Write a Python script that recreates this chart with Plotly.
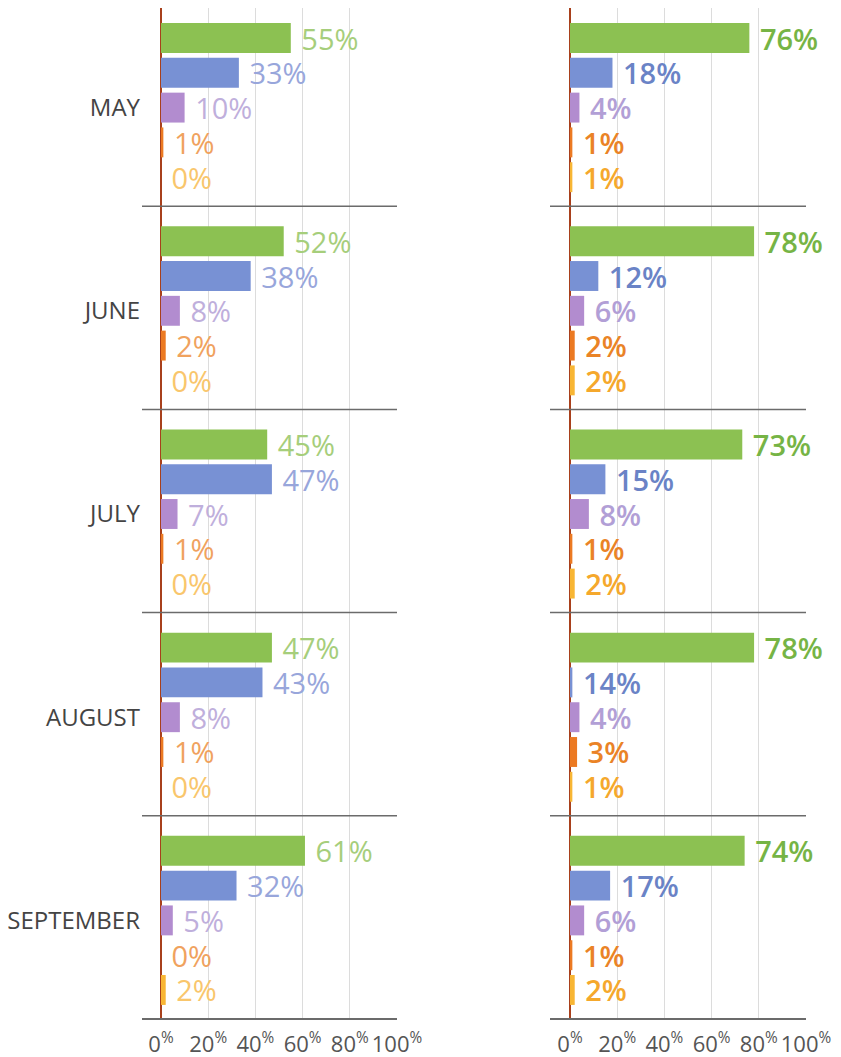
import plotly.graph_objects as go

months = ["MAY", "JUNE", "JULY", "AUGUST", "SEPTEMBER"]
series_names = ["S1", "S2", "S3", "S4", "S5"]

# Left panel: printed percentages (bar lengths match)
left_s1 = [55, 52, 45, 47, 61]
left_s2 = [33, 38, 47, 43, 32]
left_s3 = [10, 8, 7, 8, 5]
left_s4 = [1, 2, 1, 1, 0]
left_s5 = [0, 0, 0, 0, 2]

# Right panel: printed percentages
right_s1 = [76, 78, 73, 78, 74]
right_s2 = [18, 12, 15, 14, 17]
right_s3 = [4, 6, 8, 4, 6]
right_s4 = [1, 2, 1, 3, 1]
right_s5 = [1, 2, 2, 1, 2]
# Right panel blue bar lengths as drawn (August bar drawn much shorter than its label)
right_s2_drawn = [18, 12, 15, 1, 17]

tick_vals = [0, 20, 40, 60, 80, 100]
tick_text = ["0<sup>%</sup>", "20<sup>%</sup>", "40<sup>%</sup>", "60<sup>%</sup>", "80<sup>%</sup>", "100<sup>%</sup>"]

bar_colors = ["#8cc152", "#7891d4", "#b28ccf", "#ec7a22", "#f8b634"]
left_text_colors = ["#a6ce7b", "#98a6db", "#bfafdc", "#f0a25e", "#f9c66c"]
right_text_colors = ["#76b445", "#6a83c6", "#b29fd6", "#ea8326", "#f5a82c"]

FONT = "Open Sans"

left_lengths = [left_s1, left_s2, left_s3, left_s4, left_s5]
left_labels = [left_s1, left_s2, left_s3, left_s4, left_s5]
right_lengths = [right_s1, right_s2_drawn, right_s3, right_s4, right_s5]
right_labels = [right_s1, right_s2, right_s3, right_s4, right_s5]

fig = go.Figure()

for k in range(5):
    fig.add_trace(go.Bar(
        x=left_lengths[k], y=months, orientation="h", name=series_names[k],
        marker=dict(color=bar_colors[k], line=dict(width=0)),
        text=["\u00a0" + f"{v}%" for v in left_labels[k]],
        textposition="outside", cliponaxis=False, constraintext="none",
        textfont=dict(family=FONT, size=29, color=left_text_colors[k]),
        xaxis="x", yaxis="y", showlegend=False, hoverinfo="skip",
    ))
for k in range(5):
    fig.add_trace(go.Bar(
        x=right_lengths[k], y=months, orientation="h", name=series_names[k],
        marker=dict(color=bar_colors[k], line=dict(width=0)),
        text=["\u00a0" + f"{v}%" for v in right_labels[k]],
        textposition="outside", cliponaxis=False, constraintext="none",
        textfont=dict(family=FONT, size=29, color=right_text_colors[k], weight=600),
        xaxis="x2", yaxis="y2", showlegend=False, hoverinfo="skip",
    ))

# figure is drawn 8px in from the page corner (body margin)
OFF = 8
W, H = 841 - OFF, 1057 - OFF
BOTTOM_PAGE = 1019
xl0, xl1 = (161 - OFF) / W, (397 - OFF) / W
xr0, xr1 = (570 - OFF) / W, (806 - OFF) / W
yd0, yd1 = 1 - (BOTTOM_PAGE - OFF) / H, 1.0
PX_PER_MONTH = 203.2
PLOT_PX = BOTTOM_PAGE - OFF
SHIFT = 3 / PX_PER_MONTH  # groups sit slightly below the middle of each block
y_bottom = 4.5 - SHIFT
y_top = y_bottom - PLOT_PX / PX_PER_MONTH

xaxis_common = dict(
    range=[0, 100], tickvals=tick_vals, ticktext=tick_text,
    showgrid=True, gridcolor="#dcdcdc", gridwidth=1,
    zeroline=True, zerolinecolor="#a8401c", zerolinewidth=2,
    showline=False, ticks="", ticklabelstandoff=10, tickangle=0,
    automargin=False,
    tickfont=dict(family=FONT, size=22, color="#555555"),
    fixedrange=True,
)
yaxis_common = dict(
    type="category", categoryorder="array", categoryarray=months,
    range=[y_bottom, y_top], showgrid=False, zeroline=False, showline=False,
    ticks="", fixedrange=True, automargin=False,
)

fig.update_layout(
    width=W, height=H,
    margin=dict(l=0, r=0, t=0, b=0, autoexpand=False),
    paper_bgcolor="white", plot_bgcolor="white",
    barmode="group", bargap=0.144, bargroupgap=0.14,
    xaxis=dict(domain=[xl0, xl1], anchor="y", **xaxis_common),
    xaxis2=dict(domain=[xr0, xr1], anchor="y2", **xaxis_common),
    yaxis=dict(domain=[yd0, yd1], anchor="x", showticklabels=True,
               ticklabelstandoff=20,
               tickfont=dict(family=FONT, size=24, color="#444444"),
               **yaxis_common),
    yaxis2=dict(domain=[yd0, yd1], anchor="x2", showticklabels=False, **yaxis_common),
)

shapes = []
for xr, yr, xstart in [("x domain", "y", -19 / 236), ("x2 domain", "y2", -20 / 236)]:
    ydom = yr + " domain"
    # month separators, evenly spaced blocks ending at the bottom axis
    for m in range(1, len(months)):
        frac = m / (PLOT_PX / PX_PER_MONTH) if False else (m * PX_PER_MONTH) / PLOT_PX
        shapes.append(dict(type="line", xref=xr, yref=ydom, x0=xstart, x1=1,
                           y0=frac, y1=frac, line=dict(color="#6b6b6b", width=1.5)))
    # bottom axis line
    shapes.append(dict(type="line", xref=xr, yref=ydom, x0=xstart, x1=1, y0=0, y1=0,
                       line=dict(color="#6b6b6b", width=2)))
fig.update_layout(shapes=shapes)

fig.write_html("out.html")
